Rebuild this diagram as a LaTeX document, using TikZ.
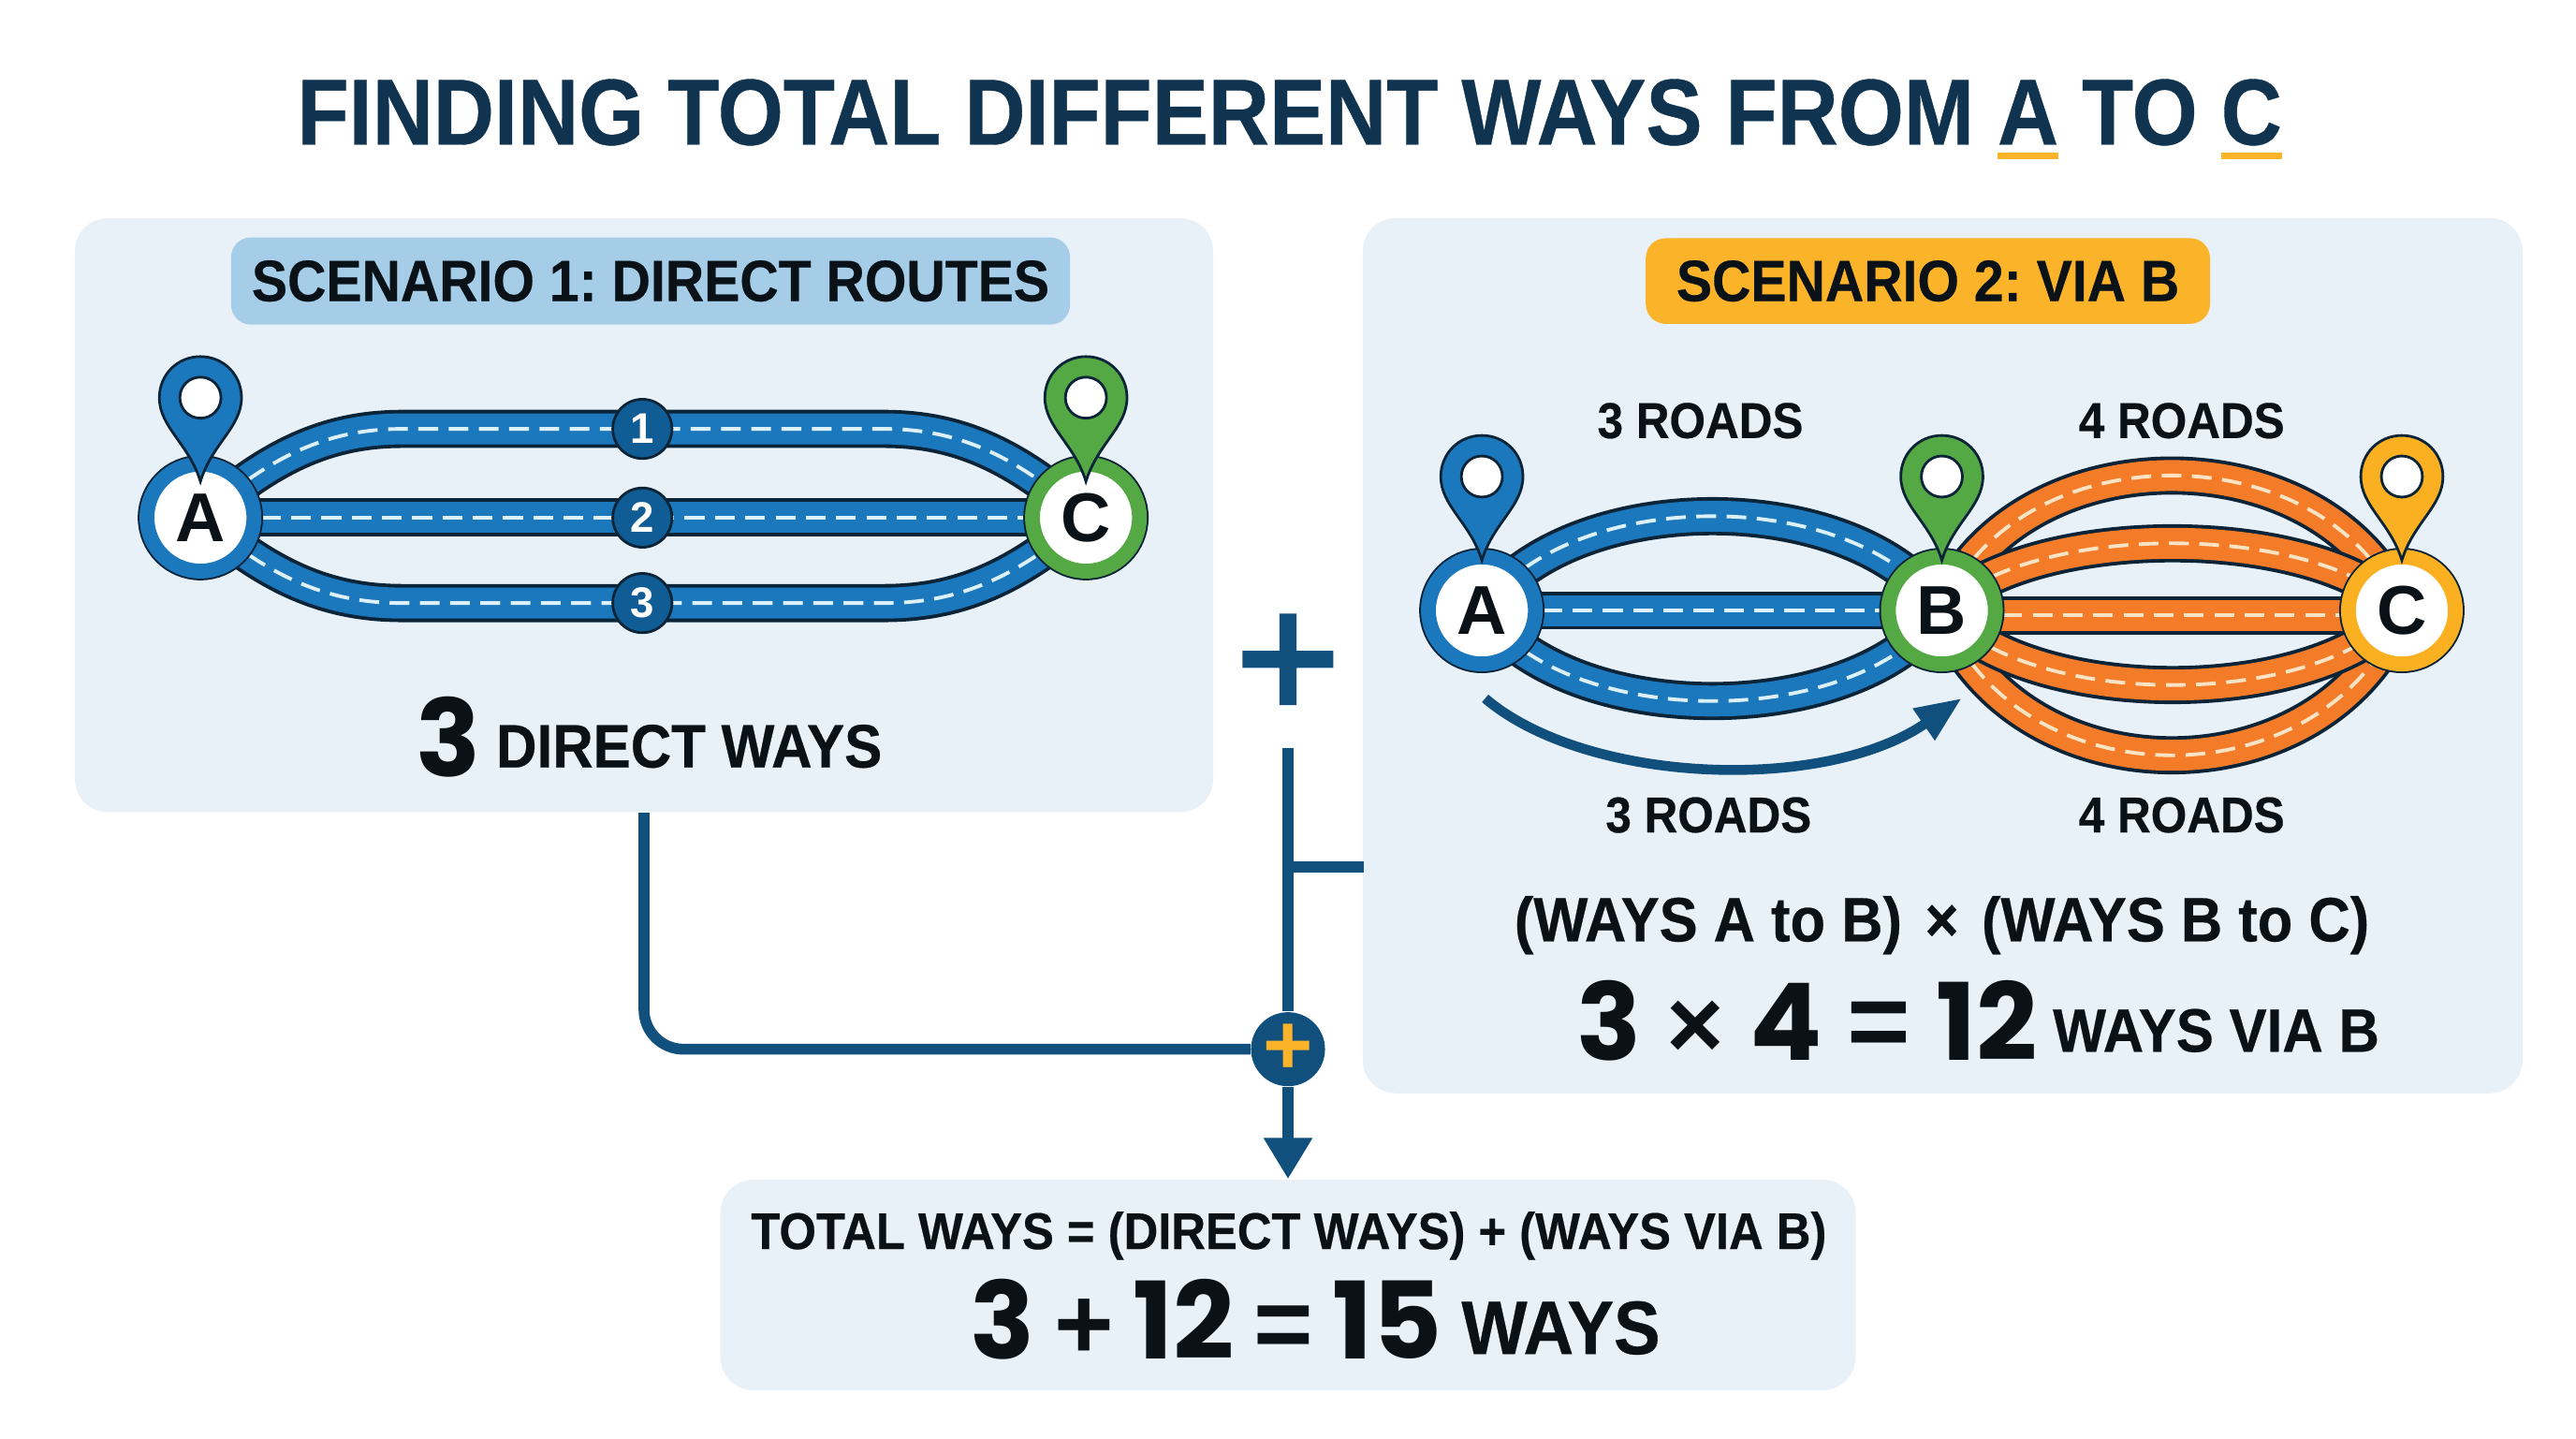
\documentclass[tikz,border=0pt]{standalone}
\usepackage{fontspec}
\usetikzlibrary{arrows.meta,backgrounds}
\setmainfont{Liberation Sans}
\newfontfamily\capsFont[FakeStretch=0.92,FakeBold=0.4]{Liberation Sans}
\newfontfamily\headFont[FakeStretch=0.9,FakeBold=0.4]{Liberation Sans}
\newfontfamily\plusFont[FakeBold=2.5]{Liberation Sans}
\newfontfamily\bigFont{Poppins}
\definecolor{titleInk}{HTML}{103450}
\definecolor{textInk}{HTML}{0A1218}
\definecolor{panelFill}{HTML}{E9F1F8}
\definecolor{tagBlue}{HTML}{A5CDE8}
\definecolor{tagYellow}{HTML}{FBB42A}
\definecolor{lineInk}{HTML}{0C2438}
\definecolor{navy}{HTML}{114F7C}
\definecolor{badgeFill}{HTML}{105C94}
\definecolor{blueMain}{HTML}{1C78BC}
\definecolor{greenMain}{HTML}{55A944}
\definecolor{orangeMain}{HTML}{F47B27}
\definecolor{yellowMain}{HTML}{FBB022}
\definecolor{dashBlue}{HTML}{DCF0FA}
\definecolor{dashOrange}{HTML}{FCE3C4}
\tikzstyle{panelBox}=[shape = rectangle, rounded corners = 10pt, fill = panelFill, inner sep = 0pt]
\tikzstyle{tagBox}=[shape = rectangle, rounded corners = 6pt, inner sep = 0pt, text = textInk, font = \capsFont\bfseries\fontsize{17.7}{18}\selectfont]
\tikzstyle{stopBlue}=[shape = circle, minimum size = 32.5pt, inner sep = 0pt, fill = white, draw = blueMain, line width = 4.5pt, preaction = {draw = lineInk, line width = 5.6pt}, text = textInk, font = \bfseries\fontsize{21}{21}\selectfont]
\tikzstyle{stopGreen}=[stopBlue, draw = greenMain]
\tikzstyle{stopYellow}=[stopBlue, draw = yellowMain]
\tikzstyle{roadNum}=[shape = circle, minimum size = 18pt, inner sep = 0pt, fill = badgeFill, draw = lineInk, line width = 0.8pt, text = white, font = \bfseries\fontsize{13}{13}\selectfont]
\tikzstyle{capsText}=[inner sep = 0pt, text = textInk, font = \capsFont\bfseries\fontsize{15.3}{15.3}\selectfont]
\tikzstyle{bigText}=[inner sep = 0pt, text = textInk, font = \capsFont\bfseries\fontsize{18.6}{18.6}\selectfont]
\tikzstyle{feedLine}=[draw = navy, line width = 3.3pt]
\newcommand{\Road}[3]{%
\draw[draw = lineInk, line width = 11.6pt] #3;
\draw[draw = #1, line width = 9.4pt] #3;
\draw[draw = #2, line width = 1.1pt, dash pattern = on 6pt off 3.2pt] #3;}
\newcommand{\Pin}[3]{% x, y of the head centre, colour
\draw[fill = #3, draw = lineInk, line width = 0.8pt] (#1,#2+51) .. controls (#1-7,#2+28) and (#1-25,#2+18) .. (#1-25,#2) .. controls (#1-25,#2-14) and (#1-14,#2-25) .. (#1,#2-25) .. controls (#1+14,#2-25) and (#1+25,#2-14) .. (#1+25,#2) .. controls (#1+25,#2+18) and (#1+7,#2+28) .. (#1,#2+51) -- cycle;
\draw[fill = white, draw = lineInk, line width = 0.8pt] (#1-12.5,#2) .. controls (#1-12.5,#2-7) and (#1-7,#2-12.5) .. (#1,#2-12.5) .. controls (#1+7,#2-12.5) and (#1+12.5,#2-7) .. (#1+12.5,#2) .. controls (#1+12.5,#2+7) and (#1+7,#2+12.5) .. (#1,#2+12.5) .. controls (#1-7,#2+12.5) and (#1-12.5,#2+7) .. (#1-12.5,#2) -- cycle;}
\newcommand{\Marked}[1]{\setbox0\hbox{#1}\rlap{\color{tagYellow}\rule[-4.5pt]{\wd0}{2pt}}\box0\relax}
\newcommand{\Num}[2]{\raisebox{#1}{\bigFont\bfseries\fontsize{32.5}{33}\selectfont #2}}
\newcommand{\Op}[3]{\raisebox{#1}{\normalfont\bfseries\fontsize{#2}{33}\selectfont #3}}

\begin{document}
\frenchspacing
\begin{tikzpicture}[x = 0.17551mm, y = -0.17551mm]
\useasboundingbox (0,0) rectangle (1568,875.2);
% Panels
\begin{scope}[on background layer]
\node[panelBox, minimum width = 346pt, minimum height = 180.5pt] (p1) at (392,313.5) {};
\node[panelBox, minimum width = 352.5pt, minimum height = 266pt] (p2) at (1182.5,399) {};
\node[panelBox, minimum width = 345pt, minimum height = 64pt] (p3) at (784,782) {};
\end{scope}
\node[text = titleInk, inner sep = 0pt, font = \headFont\bfseries\fontsize{28.5}{28.5}\selectfont, anchor = base] (title) at (785,88) {FINDING TOTAL DIFFERENT WAYS FROM \Marked{A} TO \Marked{C}};
\node[tagBox, fill = tagBlue, minimum width = 255pt, minimum height = 26.5pt] (tag1) at (396,171) {SCENARIO 1: DIRECT ROUTES};
\node[tagBox, fill = tagYellow, minimum width = 171.5pt, minimum height = 26pt] (tag2) at (1173.5,171) {SCENARIO 2: VIA B};
% Start left
\node[stopBlue] (a1) at (122,315) {A};
\node[stopGreen] (c1) at (661,315) {C};
\node[roadNum] (n1) at (391,261) {1};
\node[roadNum] (n2) at (391,315) {2};
\node[roadNum] (n3) at (391,367) {3};
\begin{scope}[on background layer]
\Road{blueMain}{dashBlue}{(a1.center) .. controls (165,277) and (200,261) .. (245,261) -- (n1.center) -- (538,261) .. controls (583,261) and (618,277) .. (c1.center)}
\Road{blueMain}{dashBlue}{(a1.center) -- (n2.center) -- (c1.center)}
\Road{blueMain}{dashBlue}{(a1.center) .. controls (165,352) and (200,367) .. (245,367) -- (n3.center) -- (538,367) .. controls (583,367) and (618,352) .. (c1.center)}
\end{scope}
\Pin{122}{242}{blueMain}
\Pin{661}{242}{greenMain}
\node[bigText, anchor = base] (w1) at (395,467) {\Num{-2.8pt}{3} DIRECT WAYS};
% Start right
\node[stopBlue] (a2) at (902,371.5) {A};
\node[stopGreen] (b2) at (1182,371.5) {B};
\node[stopYellow] (c2) at (1462,371.5) {C};
\begin{scope}[on background layer]
\Road{blueMain}{dashBlue}{(a2.center) .. controls (955,295) and (1130,295) .. (b2.center)}
\Road{blueMain}{dashBlue}{(a2.center) -- (b2.center)}
\Road{blueMain}{dashBlue}{(a2.center) .. controls (955,445) and (1130,445) .. (b2.center)}
\Road{orangeMain}{dashOrange}{(b2.center) .. controls (1228,262) and (1416,262) .. (c2.center)}
\Road{orangeMain}{dashOrange}{(b2.center) .. controls (1228,489) and (1416,489) .. (c2.center)}
\Road{orangeMain}{dashOrange}{(b2.center) .. controls (1235,317) and (1410,317) .. (c2.center)}
\Road{orangeMain}{dashOrange}{(b2.center) .. controls (1235,432) and (1410,432) .. (c2.center)}
\Road{orangeMain}{dashOrange}{(b2.center) ++(0,3) -- (1462,374.5)}
\end{scope}
\Pin{902}{290}{blueMain}
\Pin{1182}{290}{greenMain}
\Pin{1462}{290}{yellowMain}
\coordinate (arcS) at (904,425);
\coordinate (arcE) at (1194,425);
\draw[draw = navy, line width = 3pt, -{Triangle[length = 14pt, width = 11pt]}] (arcS) .. controls (965,477) and (1110,483) .. (arcE);
\node[capsText] (r1) at (1035,256) {3 ROADS};
\node[capsText] (r2) at (1328,256) {4 ROADS};
\node[capsText] (r3) at (1040,496) {3 ROADS};
\node[capsText] (r4) at (1328,496) {4 ROADS};
\node[bigText, font = \capsFont\bfseries\fontsize{19}{19}\selectfont] (f1) at (1182,563) {(WAYS A to B)\hspace{7pt}×\hspace{7pt}(WAYS B to C)};
\node[bigText, anchor = base] (f2) at (1204,640) {\Num{-2.5pt}{3}\hspace{7.7pt}\Op{-2pt}{30}{×}\hspace{7.7pt}\Num{-2.5pt}{4}\hspace{7.7pt}\Op{-2pt}{33}{=}\hspace{7.7pt}\Num{-2.5pt}{12} WAYS VIA B};
% Sum
\node[text = navy, inner sep = 0pt, font = \plusFont\fontsize{54}{54}\selectfont] (plus) at (784,406) {+};
\node[shape = circle, minimum size = 22.5pt, inner sep = 0pt, fill = navy, text = tagYellow, font = \bfseries\fontsize{26}{26}\selectfont] (sum) at (784,638.5) {+};
\coordinate (stemTop) at (784,455);
\coordinate (tapL) at (784,527.5);
\coordinate (tapR) at (830,527.5);
\begin{scope}[on background layer]
\draw[feedLine] (stemTop) -- (sum);
\draw[feedLine] (tapL) -- (tapR);
\draw[feedLine, rounded corners = 12pt] (p1.south) |- (sum);
\draw[feedLine, -{Triangle[length = 12.5pt, width = 14pt]}] (sum) -- (p3.north);
\end{scope}
% Total
\node[capsText, font = \capsFont\bfseries\fontsize{15.7}{15.7}\selectfont] (t1) at (784.5,752) {TOTAL WAYS = (DIRECT WAYS) + (WAYS VIA B)};
\node[inner sep = 0pt, text = textInk, font = \capsFont\bfseries\fontsize{23}{23}\selectfont, anchor = base] (t2) at (800.5,824) {\Num{-1.5pt}{3} \Op{-1.5pt}{31}{+} \Num{-1.5pt}{12} \Op{-1.5pt}{31}{=} \Num{-1.5pt}{15} WAYS};
\end{tikzpicture}
\end{document}
